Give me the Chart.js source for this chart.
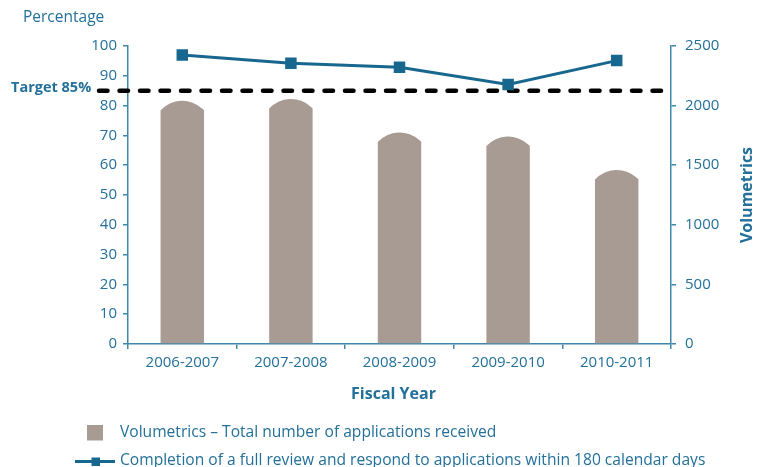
<!DOCTYPE html>
<html>
<head>
<meta charset="utf-8">
<script src="https://cdn.jsdelivr.net/npm/chart.js@4.4.1/dist/chart.umd.min.js"></script>
<style>
  html, body { margin: 0; padding: 0; background: #ffffff; }
  #wrap { position: relative; width: 757px; height: 467px; }
</style>
</head>
<body>
<div id="wrap"><canvas id="chart" width="757" height="467"></canvas></div>
<script>
// Fiscal years shown on the x axis
const categories = ['2006-2007', '2007-2008', '2008-2009', '2009-2010', '2010-2011'];
// Total number of applications received (right axis)
const applicationsReceived = [2040, 2055, 1775, 1740, 1460];
// Share of applications fully reviewed within 180 days, in percent (left axis)
const completionRate = [97.0, 94.2, 92.9, 87.1, 95.1];
// Service standard target, in percent
const targetRate = 85;

const barLabel = 'Volumetrics \u2013 Total number of applications received';
const lineLabel = 'Completion of a full review and respond to applications within 180 calendar days';

const FONT = '"Open Sans", "Noto Sans", sans-serif';
const BLUE_TEXT = '#23709a';
const BLUE_LINE = '#18678f';
const AXIS = '#3f87ab';
const BAR = '#a89b93';

// Bars with a rounded cap, drawn from the element geometry Chart.js computes
const domeBars = {
  id: 'domeBars',
  beforeDatasetDraw(chart, args) {
    if (args.index !== 0) return;
    const ctx = chart.ctx;
    const meta = args.meta;
    ctx.save();
    ctx.fillStyle = BAR;
    meta.data.forEach(bar => {
      const w = bar.width;
      const left = bar.x - w / 2;
      const right = bar.x + w / 2;
      const top = bar.y;
      const h = 9.5; // cap height
      const R = (w * w / 4 + h * h) / (2 * h);
      const a = Math.asin((w / 2) / R);
      ctx.beginPath();
      ctx.moveTo(left, bar.base);
      ctx.lineTo(left, top + h);
      ctx.arc(bar.x, top + R, R, -Math.PI / 2 - a, -Math.PI / 2 + a);
      ctx.lineTo(right, bar.base);
      ctx.closePath();
      ctx.fill();
    });
    ctx.restore();
    return false;
  }
};

// Dashed target line and its label
const targetLine = {
  id: 'targetLine',
  beforeDatasetsDraw(chart) {
    const ctx = chart.ctx;
    const y = chart.scales.y.getPixelForValue(targetRate);
    const area = chart.chartArea;
    ctx.save();
    ctx.strokeStyle = '#000000';
    ctx.lineWidth = 4.5;
    ctx.lineCap = 'round';
    ctx.setLineDash([8.5, 12]);
    ctx.beginPath();
    ctx.moveTo(area.left - 29, y);
    ctx.lineTo(area.right - 3, y);
    ctx.stroke();
    ctx.setLineDash([]);
    ctx.fillStyle = BLUE_TEXT;
    ctx.font = 'bold 14.5px ' + FONT;
    ctx.textAlign = 'left';
    ctx.textBaseline = 'middle';
    ctx.fillText('Target ' + targetRate + '%', 11, y - 3);
    ctx.restore();
  }
};

// Axis titles and the legend underneath the plot
const annotations = {
  id: 'annotations',
  afterDraw(chart) {
    const ctx = chart.ctx;
    const area = chart.chartArea;
    ctx.save();
    ctx.fillStyle = BLUE_TEXT;
    ctx.textBaseline = 'middle';

    ctx.font = '15.5px ' + FONT;
    ctx.textAlign = 'left';
    ctx.fillText('Percentage', 23, 18);

    ctx.font = 'bold 16px ' + FONT;
    ctx.textAlign = 'center';
    ctx.fillText('Fiscal Year', (area.left + area.right) / 2 - 6, 394);

    ctx.save();
    ctx.translate(747, (area.top + area.bottom) / 2);
    ctx.rotate(-Math.PI / 2);
    ctx.fillText('Volumetrics', 0, 0);
    ctx.restore();

    // legend
    ctx.textAlign = 'left';
    ctx.font = '15.6px ' + FONT;
    ctx.fillStyle = BAR;
    ctx.fillRect(87, 425, 16, 15.5);
    ctx.fillStyle = BLUE_TEXT;
    ctx.fillText(barLabel, 120, 432.5);

    ctx.strokeStyle = BLUE_LINE;
    ctx.lineWidth = 3;
    ctx.beginPath();
    ctx.moveTo(75, 461.5);
    ctx.lineTo(115, 461.5);
    ctx.stroke();
    ctx.fillStyle = BLUE_LINE;
    ctx.fillRect(91.5, 457.5, 8.5, 8.5);
    ctx.fillStyle = BLUE_TEXT;
    ctx.fillText(lineLabel, 120, 460.5);
    ctx.restore();
  }
};

const tickFont = { family: FONT, size: 15 };

new Chart(document.getElementById('chart'), {
  data: {
    labels: categories,
    datasets: [
      {
        type: 'bar',
        label: barLabel,
        data: applicationsReceived,
        yAxisID: 'y1',
        backgroundColor: BAR,
        barPercentage: 0.4,
        categoryPercentage: 1.0,
        order: 2
      },
      {
        type: 'line',
        label: lineLabel,
        data: completionRate,
        yAxisID: 'y',
        borderColor: BLUE_LINE,
        backgroundColor: BLUE_LINE,
        borderWidth: 3,
        pointStyle: 'rect',
        pointRadius: 6,
        pointHoverRadius: 6,
        tension: 0,
        order: 1
      }
    ]
  },
  options: {
    responsive: false,
    animation: false,
    layout: { padding: { top: 46, left: 0, right: 0, bottom: 53 } },
    plugins: {
      legend: { display: false },
      tooltip: { enabled: false }
    },
    scales: {
      x: {
        offset: true,
        grid: { offset: true, drawOnChartArea: false, drawTicks: true, tickLength: 5, color: AXIS, lineWidth: 1.5 },
        border: { color: AXIS, width: 1.5 },
        ticks: { color: BLUE_TEXT, font: tickFont, padding: 5, maxRotation: 0 },
        afterFit(scale) { scale.height = 70; }
      },
      y: {
        position: 'left',
        min: 0,
        max: 100,
        ticks: { stepSize: 10, color: BLUE_TEXT, font: tickFont, padding: 6 },
        grid: { drawOnChartArea: false, drawTicks: true, tickLength: 5, color: AXIS, lineWidth: 1.5 },
        border: { color: AXIS, width: 1.5 },
        afterFit(scale) { scale.width = 128; }
      },
      y1: {
        position: 'right',
        min: 0,
        max: 2500,
        ticks: { stepSize: 500, color: BLUE_TEXT, font: tickFont, padding: 9, callback: v => String(v) },
        grid: { drawOnChartArea: false, drawTicks: true, tickLength: 5, color: AXIS, lineWidth: 1.5 },
        border: { color: AXIS, width: 1.5 },
        afterFit(scale) { scale.width = 86; }
      }
    }
  },
  plugins: [domeBars, targetLine, annotations]
});
</script>
</body>
</html>
